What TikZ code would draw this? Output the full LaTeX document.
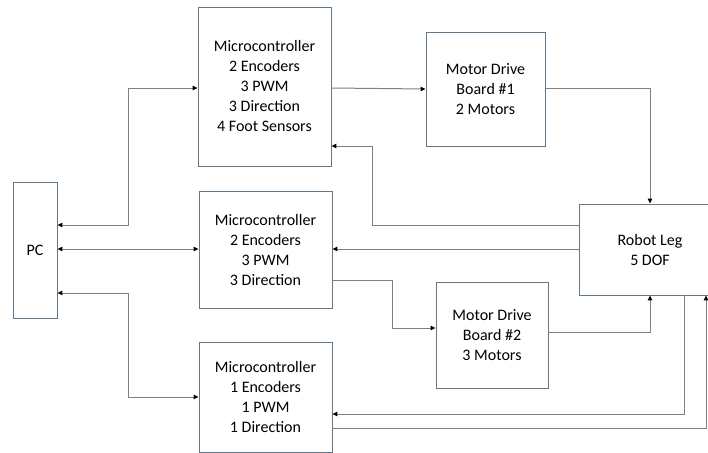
\documentclass[tikz,border=0pt]{standalone}
\usepackage{fontspec}
\setmainfont{Carlito}
\usetikzlibrary{arrows.meta}
\definecolor{boxline}{RGB}{96,120,140}
\definecolor{wire}{RGB}{128,128,128}
\tikzset{
  block/.style={draw=boxline, line width=0.9pt, fill=white, align=center,
    font=\fontsize{16}{20}\selectfont, inner sep=0pt},
  conn/.style={draw=wire, line width=1pt, arrows={-{Triangle[length=5pt,width=4.5pt,color=black]}}},
  biconn/.style={draw=wire, line width=1pt,
    arrows={{Triangle[length=5pt,width=4.5pt,color=black]}-{Triangle[length=5pt,width=4.5pt,color=black]}}}
}
\begin{document}
\begin{tikzpicture}[x=1pt,y=-1pt]
\clip (0,0) rectangle (708,452);
\fill[white] (0,0) rectangle (708,452);

% blocks
\node[block, minimum width=44pt, minimum height=136pt] (pc) at (35,250) {PC};
\node[block, minimum width=133pt, minimum height=159pt] (mc1) at (264.5,86.5)
  {Microcontroller\\2 Encoders\\3 PWM\\3 Direction\\4 Foot Sensors};
\node[block, minimum width=133pt, minimum height=117pt] (mc2) at (265.5,249.5)
  {Microcontroller\\2 Encoders\\3 PWM\\3 Direction};
\node[block, minimum width=133pt, minimum height=110pt] (mc3) at (265.5,397)
  {Microcontroller\\1 Encoders\\1 PWM\\1 Direction};
\node[block, minimum width=119pt, minimum height=114pt] (md1) at (485.5,89)
  {Motor Drive\\Board \#1\\2 Motors};
\node[block, minimum width=112pt, minimum height=106pt] (md2) at (492,335)
  {Motor Drive\\Board \#2\\3 Motors};
\node[block, minimum width=142pt, minimum height=91pt] (leg) at (650,249.5)
  {Robot Leg\\5 DOF};

% PC links
\draw[biconn] (pc.east |- 0,225) -- (128,225) -- (128,88) -- (mc1.west |- 0,88);
\draw[biconn] (pc.east |- 0,249) -- (mc2.west |- 0,249);
\draw[biconn] (pc.east |- 0,293) -- (128,293) -- (128,397) -- (mc3.west |- 0,397);

% drive paths
\draw[conn] (mc1.east |- 0,88) -- (md1.west |- 0,89);
\draw[conn] (md1.east |- 0,88) -- (650,88) -- (leg.north -| 650,0);
\draw[conn] (mc2.east |- 0,280) -- (392,280) -- (392,328) -- (md2.west |- 0,328);
\draw[conn] (md2.east |- 0,332) -- (650,332) -- (leg.south -| 650,0);

% feedback paths
\draw[conn] (leg.west |- 0,225) -- (372,225) -- (372,146) -- (mc1.east |- 0,146);
\draw[conn] (leg.west |- 0,249) -- (mc2.east |- 0,249);
\draw[conn] (leg.south -| 684,0) -- (684,414) -- (mc3.east |- 0,414);
\draw[conn] (mc3.east |- 0,428) -- (706,428) -- (leg.south -| 706,0);
\end{tikzpicture}
\end{document}
